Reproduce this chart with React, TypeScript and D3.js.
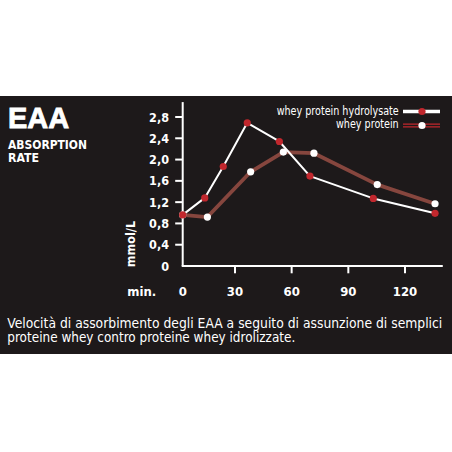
import * as d3 from 'd3';

// minutes after intake
const hydroTimes = [2.3, 14, 23.8, 36.5, 53.5, 69.7, 103.2, 135.9];
const hydroValues = [0.96, 1.28, 1.87, 2.69, 2.34, 1.69, 1.27, 0.99];
const wheyTimes = [2.3, 15.4, 38.3, 55.6, 71.8, 105.3, 135.9];
const wheyValues = [0.96, 0.92, 1.77, 2.14, 2.12, 1.53, 1.17];

const yTicks = [0, 0.4, 0.8, 1.2, 1.6, 2.0, 2.4, 2.8];
const xTicks = [30, 60, 90, 120];
const seriesNames = ['whey protein hydrolysate', 'whey protein'];

const BG = '#1d191a';
const RED = '#c1272d';
const BROWN = '#86463e';
const NARROW = '"Liberation Sans Narrow", "DejaVu Sans Condensed", sans-serif';
const COND = '"DejaVu Sans Condensed", "Liberation Sans Narrow", sans-serif';

export default function App() {
  const width = 452;
  const height = 452;
  const axisX = 182.7;

  const x = d3.scaleLinear().domain([0, 120]).range([178.3, 405]);
  const y = d3.scaleLinear().domain([0, 2.8]).range([266, 117]);

  const hydro = hydroTimes.map((t, i) => [t, hydroValues[i]] as [number, number]);
  const whey = wheyTimes.map((t, i) => [t, wheyValues[i]] as [number, number]);

  const line = d3
    .line<[number, number]>()
    .x((d) => x(d[0]))
    .y((d) => y(d[1]));

  const fmt = (v: number) => (v === 0 ? '0' : v.toFixed(1).replace('.', ','));

  return (
    <div style={{ position: 'fixed', left: 0, top: 0 }}>
      <svg width={width} height={height} style={{ display: 'block' }}>
        <rect x={0} y={0} width={width} height={height} fill="#ffffff" />
        <rect x={0} y={96} width={width} height={258} fill={BG} />

        {/* Title */}
        <text x={8} y={128} fill="#fff" stroke="#fff" strokeWidth={0.8} fontFamily="Liberation Sans, Arial, sans-serif" fontWeight="bold" fontSize={29}>
          EAA
        </text>
        <text x={8} y={149} fill="#fff" fontFamily={NARROW} fontWeight="bold" fontSize={13} textLength={79} lengthAdjust="spacingAndGlyphs">
          ABSORPTION
        </text>
        <text x={8} y={161.7} fill="#fff" fontFamily={NARROW} fontWeight="bold" fontSize={13} textLength={31} lengthAdjust="spacingAndGlyphs">
          RATE
        </text>

        {/* Axes */}
        <line x1={axisX} x2={axisX} y1={y(3.08)} y2={266} stroke="#fff" strokeWidth={2} />
        <line x1={axisX - 1} x2={x(140)} y1={266} y2={266} stroke="#fff" strokeWidth={2} />
        {yTicks.map((v) => (
          <g key={v}>
            {v > 0 && (
              <line x1={axisX - 7.5} x2={axisX} y1={y(v)} y2={y(v)} stroke="#fff" strokeWidth={2} />
            )}
            <text
              x={169}
              y={y(v) + 4.6}
              textAnchor="end"
              fill="#fff"
              fontFamily={NARROW}
              fontWeight="bold"
              fontSize={12.5}
            >
              {fmt(v)}
            </text>
          </g>
        ))}
        {xTicks.map((v) => (
          <g key={v}>
            <line x1={x(v)} x2={x(v)} y1={266} y2={273.3} stroke="#fff" strokeWidth={2} />
            <text x={x(v)} y={296} textAnchor="middle" fill="#fff" fontFamily={NARROW} fontWeight="bold" fontSize={13}>
              {v}
            </text>
          </g>
        ))}
        <text x={axisX} y={296} textAnchor="middle" fill="#fff" fontFamily={NARROW} fontWeight="bold" fontSize={13}>
          0
        </text>
        <text x={127.3} y={296} fill="#fff" fontFamily={NARROW} fontWeight="bold" fontSize={13}>
          min.
        </text>
        <text
          x={135}
          y={244}
          transform="rotate(-90 135 244)"
          textAnchor="middle"
          fill="#fff"
          fontFamily={NARROW}
          fontWeight="bold"
          fontSize={12.5}
        >
          mmol/L
        </text>

        {/* Series lines */}
        <path d={line(whey) ?? ''} fill="none" stroke={BROWN} strokeWidth={3.8} strokeLinejoin="round" />
        <path d={line(hydro) ?? ''} fill="none" stroke="#fff" strokeWidth={2} strokeLinejoin="round" />
        {whey.map((d, i) => (
          <circle key={'w' + i} cx={x(d[0])} cy={y(d[1])} r={3.6} fill="#fff" />
        ))}
        {hydro.map((d, i) => (
          <circle key={'h' + i} cx={x(d[0])} cy={y(d[1])} r={3.6} fill={RED} />
        ))}

        {/* Legend */}
        <text x={398.7} y={115} textAnchor="end" fill="#fff" fontFamily={COND} fontSize={11.5} textLength={122} lengthAdjust="spacingAndGlyphs">
          {seriesNames[0]}
        </text>
        <line x1={403} x2={440} y1={111.5} y2={111.5} stroke="#fff" strokeWidth={3.5} />
        <circle cx={422} cy={111.5} r={3.6} fill={RED} />
        <text x={398.7} y={128} textAnchor="end" fill="#fff" fontFamily={COND} fontSize={11.5} textLength={62.7} lengthAdjust="spacingAndGlyphs">
          {seriesNames[1]}
        </text>
        <line x1={403} x2={440} y1={125.5} y2={125.5} stroke={RED} strokeWidth={4} />
        <line x1={403} x2={440} y1={125.5} y2={125.5} stroke={BG} strokeWidth={1.6} />
        <circle cx={422} cy={125.5} r={3.6} fill="#fff" />

        {/* Caption */}
        <text x={7.3} y={327.5} fill="#fff" fontFamily={COND} fontSize={14} textLength={435} lengthAdjust="spacingAndGlyphs">
          Velocità di assorbimento degli EAA a seguito di assunzione di semplici
        </text>
        <text x={7.3} y={342} fill="#fff" fontFamily={COND} fontSize={14} textLength={288} lengthAdjust="spacingAndGlyphs">
          proteine whey contro proteine whey idrolizzate.
        </text>
      </svg>
    </div>
  );
}
